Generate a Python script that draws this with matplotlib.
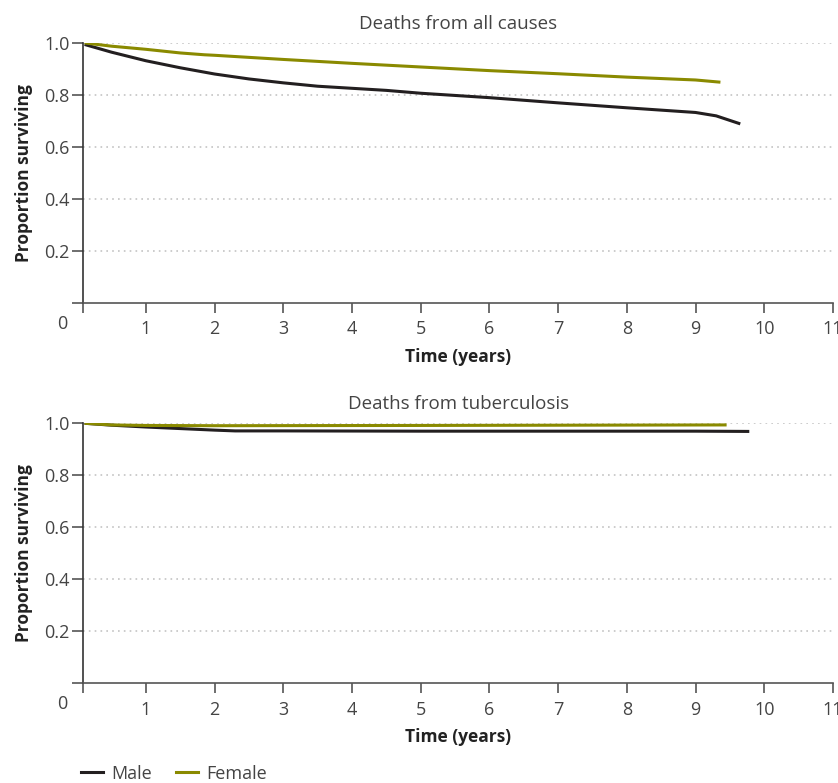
import matplotlib
matplotlib.use("Agg")
import matplotlib.pyplot as plt
from matplotlib.lines import Line2D

plt.rcParams['font.family'] = ['Open Sans', 'DejaVu Sans']

# Data
all_male_t = [0.13, 0.5, 1, 1.5, 2, 2.5, 3, 3.5, 4, 4.5, 5, 6, 7, 8, 9, 9.3, 9.63]
all_male_s = [0.993, 0.965, 0.932, 0.905, 0.881, 0.862, 0.847, 0.834, 0.826, 0.818, 0.807, 0.790, 0.770, 0.751, 0.733, 0.720, 0.691]
all_female_t = [0.13, 0.5, 1, 1.5, 1.85, 2, 3, 4, 5, 6, 7, 8, 9, 9.34]
all_female_s = [1.0, 0.988, 0.976, 0.962, 0.955, 0.953, 0.937, 0.922, 0.908, 0.894, 0.882, 0.869, 0.858, 0.850]

tb_male_t = [0.13, 0.5, 1, 1.5, 2, 2.3, 3, 5, 7, 9, 9.76]
tb_male_s = [1.0, 0.993, 0.986, 0.980, 0.974, 0.971, 0.971, 0.970, 0.970, 0.970, 0.969]
tb_female_t = [0.13, 0.5, 1, 2, 5, 9.43]
tb_female_s = [1.0, 0.994, 0.992, 0.991, 0.992, 0.994]

titles = ["Deaths from all causes", "Deaths from tuberculosis"]
male_color = "#231f20"
female_color = "#8a8a00"
text_color = "#444444"
x_start = 0.09

fig = plt.figure(figsize=(8.38, 7.83), dpi=100)
ax1 = fig.add_axes([0.0994, 0.613, 0.8946, 0.332])
ax2 = fig.add_axes([0.0994, 0.1273, 0.8946, 0.332])

panels = [(ax1, all_male_t, all_male_s, all_female_t, all_female_s),
          (ax2, tb_male_t, tb_male_s, tb_female_t, tb_female_s)]

for (ax, mt, ms, ft, fs), title in zip(panels, titles):
    for yv in [0.2, 0.4, 0.6, 0.8, 1.0]:
        ax.axhline(yv, color="#c4c4c4", lw=1.2, ls=(0, (1, 2.5)), zorder=0)
    ax.plot(ft, fs, color=female_color, lw=2.2, zorder=3)
    ax.plot(mt, ms, color=male_color, lw=2.2, zorder=2)
    ax.set_xlim(x_start, 11)
    ax.set_ylim(0, 1.0)
    ax.set_xticks([x_start] + list(range(1, 12)))
    ax.set_xticklabels([""] + [str(i) for i in range(1, 12)])
    ax.set_yticks([0, 0.2, 0.4, 0.6, 0.8, 1.0])
    ax.set_yticklabels(["", "0.2", "0.4", "0.6", "0.8", "1.0"])
    ax.tick_params(axis='x', length=7.5, width=1.2, color="#555555", labelcolor=text_color,
                   labelsize=13, pad=5)
    ax.tick_params(axis='y', length=8, width=1.2, color="#555555", labelcolor=text_color,
                   labelsize=13, pad=2)
    for s in ['top', 'right']:
        ax.spines[s].set_visible(False)
    ax.spines['left'].set_color("#333333")
    ax.spines['bottom'].set_color("#555555")
    ax.spines['left'].set_linewidth(1.2)
    ax.spines['bottom'].set_linewidth(1.2)
    ax.set_title(title, fontsize=13.5, color=text_color, pad=10)
    ax.set_xlabel("Time (years)", fontsize=12.5, fontweight='bold', color="#222222", labelpad=7)
    ax.set_ylabel("Proportion surviving", fontsize=12.5, fontweight='bold', color="#222222", labelpad=8)
    ax.text(-0.028, -0.08, "0", transform=ax.transAxes, ha='center', va='center',
            fontsize=13, color=text_color)

handles = [Line2D([], [], color=male_color, lw=2.2), Line2D([], [], color=female_color, lw=2.2)]
fig.legend(handles, ["Male", "Female"], loc='center left', bbox_to_anchor=(0.0967, 0.012),
           ncol=2, frameon=False, fontsize=13, handlelength=1.2, handletextpad=0.5,
           columnspacing=1.3, labelcolor=text_color, borderaxespad=0, borderpad=0)

fig.savefig("out.png", dpi=100)
